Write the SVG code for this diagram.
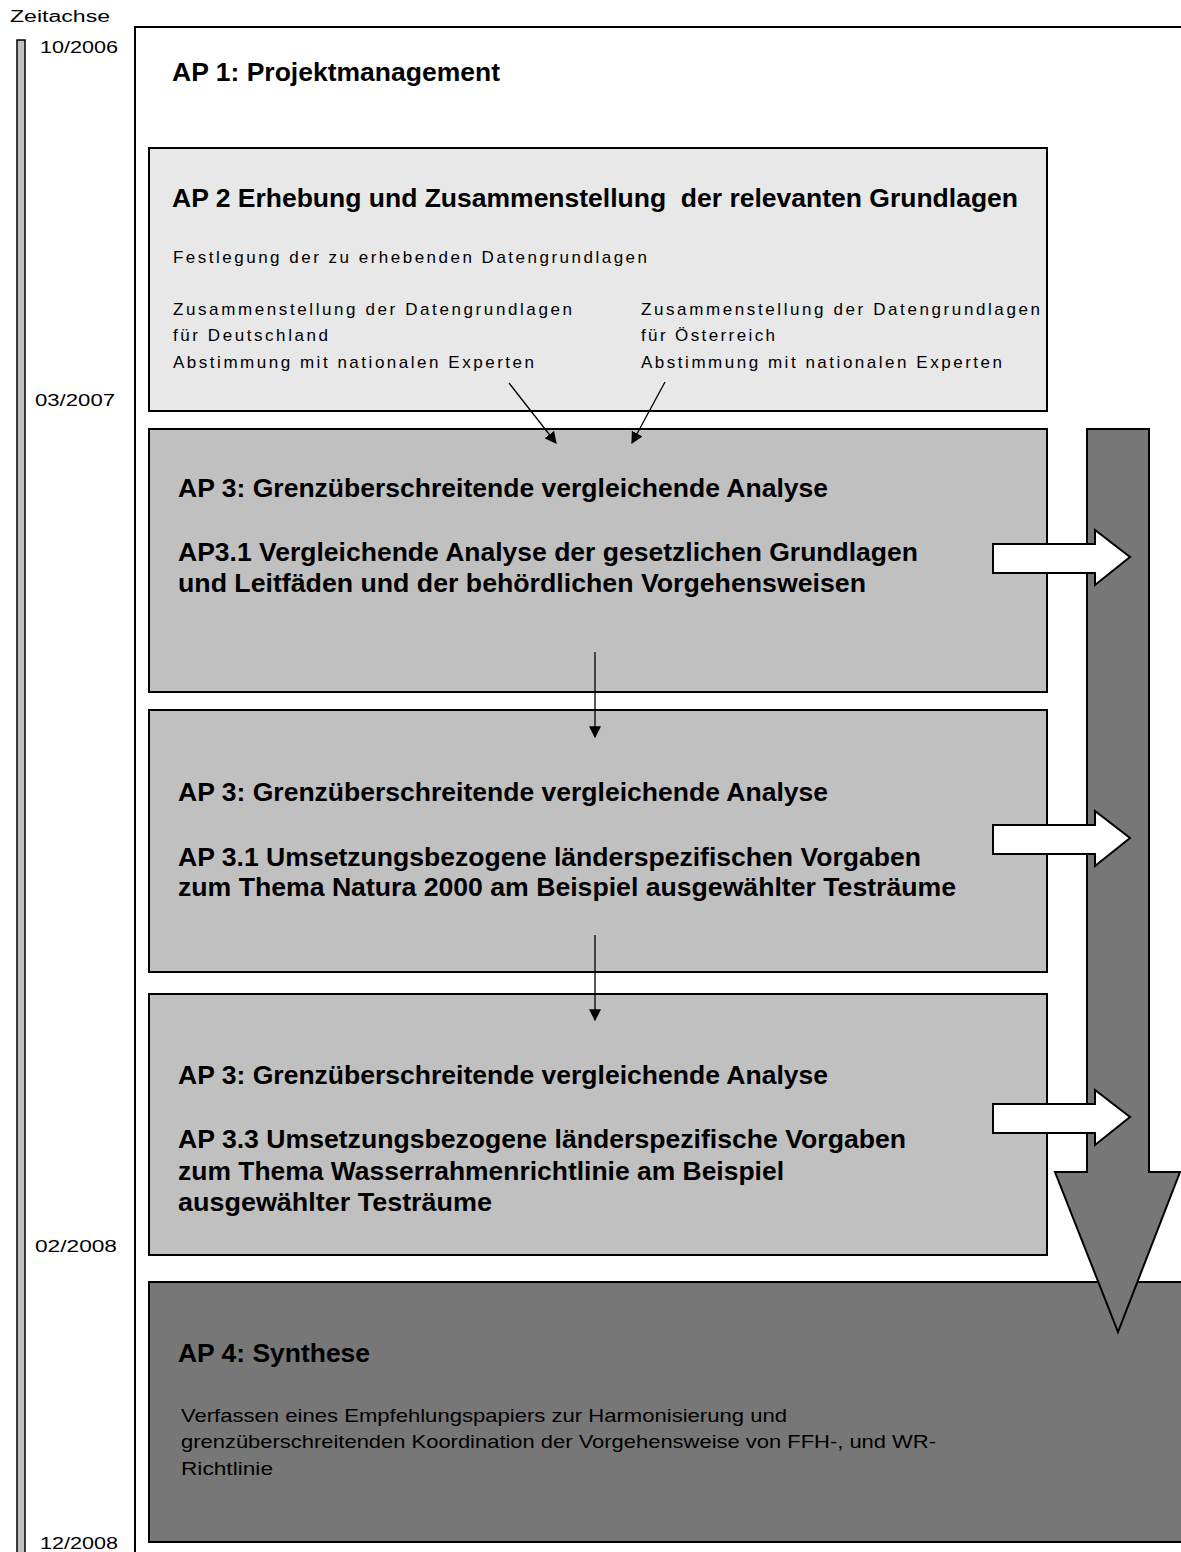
<svg xmlns="http://www.w3.org/2000/svg" width="1181" height="1552" viewBox="0 0 1181 1552">
<defs>
<style>
.box{stroke:#000;stroke-width:2}
.t{font-family:"Liberation Sans",Arial,sans-serif;fill:#000}
.time{font-size:16px}
.h{font-size:25px;font-weight:bold}
.s{font-size:17px}
.c{font-size:19px}
.ln{stroke:#000;stroke-width:1.3;fill:none}
.wa{fill:#fff;stroke:#000;stroke-width:2;stroke-linejoin:miter}
</style>
<marker id="ah" viewBox="0 0 10 10" refX="9" refY="5" markerWidth="12" markerHeight="12" markerUnits="userSpaceOnUse" orient="auto">
<path d="M0,0 L10,5 L0,10 Z" fill="#000"/>
</marker>
</defs>
<rect width="1181" height="1552" fill="#fff"/>

<g id="timeline">
<rect x="17" y="40" width="8" height="1530" fill="#c0c0c0" stroke="#000" stroke-width="1.5"/>
<text class="t time" x="10" y="22" textLength="100" lengthAdjust="spacingAndGlyphs">Zeitachse</text>
<text class="t time" x="40" y="53" textLength="78" lengthAdjust="spacingAndGlyphs">10/2006</text>
<text class="t time" x="35" y="406" textLength="80" lengthAdjust="spacingAndGlyphs">03/2007</text>
<text class="t time" x="35" y="1252" textLength="82" lengthAdjust="spacingAndGlyphs">02/2008</text>
<text class="t time" x="40" y="1549" textLength="78" lengthAdjust="spacingAndGlyphs">12/2008</text>
</g>

<g id="ap1">
<rect class="box" x="135" y="27" width="1060" height="1540" fill="#fff"/>
<text class="t h" x="172" y="81" textLength="328" lengthAdjust="spacingAndGlyphs">AP 1: Projektmanagement</text>
</g>

<g id="ap2">
<rect class="box" x="149" y="148" width="898" height="263" fill="#e8e8e8"/>
<text class="t h" x="172" y="207" textLength="846" lengthAdjust="spacingAndGlyphs" xml:space="preserve">AP 2 Erhebung und Zusammenstellung  der relevanten Grundlagen</text>
<text class="t s" x="173" y="263" textLength="474" lengthAdjust="spacing">Festlegung der zu erhebenden Datengrundlagen</text>
<text class="t s" x="173" y="315" textLength="399" lengthAdjust="spacing">Zusammenstellung der Datengrundlagen</text>
<text class="t s" x="173" y="341" textLength="155" lengthAdjust="spacing">für Deutschland</text>
<text class="t s" x="173" y="368" textLength="361" lengthAdjust="spacing">Abstimmung mit nationalen Experten</text>
<text class="t s" x="641" y="315" textLength="399" lengthAdjust="spacing">Zusammenstellung der Datengrundlagen</text>
<text class="t s" x="641" y="341" textLength="134" lengthAdjust="spacing">für Österreich</text>
<text class="t s" x="641" y="368" textLength="361" lengthAdjust="spacing">Abstimmung mit nationalen Experten</text>
</g>

<g id="ap3-1">
<rect class="box" x="149" y="429" width="898" height="263" fill="#c0c0c0"/>
<text class="t h" x="178" y="497" textLength="650" lengthAdjust="spacingAndGlyphs">AP 3: Grenzüberschreitende vergleichende Analyse</text>
<text class="t h" x="178" y="561" textLength="740" lengthAdjust="spacingAndGlyphs">AP3.1 Vergleichende Analyse der gesetzlichen Grundlagen</text>
<text class="t h" x="178" y="592" textLength="688" lengthAdjust="spacingAndGlyphs">und Leitfäden und der behördlichen Vorgehensweisen</text>
</g>

<g id="ap3-2">
<rect class="box" x="149" y="710" width="898" height="262" fill="#c0c0c0"/>
<text class="t h" x="178" y="801" textLength="650" lengthAdjust="spacingAndGlyphs">AP 3: Grenzüberschreitende vergleichende Analyse</text>
<text class="t h" x="178" y="866" textLength="743" lengthAdjust="spacingAndGlyphs">AP 3.1 Umsetzungsbezogene länderspezifischen Vorgaben</text>
<text class="t h" x="178" y="896" textLength="778" lengthAdjust="spacingAndGlyphs">zum Thema Natura 2000 am Beispiel ausgewählter Testräume</text>
</g>

<g id="ap3-3">
<rect class="box" x="149" y="994" width="898" height="261" fill="#c0c0c0"/>
<text class="t h" x="178" y="1084" textLength="650" lengthAdjust="spacingAndGlyphs">AP 3: Grenzüberschreitende vergleichende Analyse</text>
<text class="t h" x="178" y="1148" textLength="728" lengthAdjust="spacingAndGlyphs">AP 3.3 Umsetzungsbezogene länderspezifische Vorgaben</text>
<text class="t h" x="178" y="1180" textLength="606" lengthAdjust="spacingAndGlyphs">zum Thema Wasserrahmenrichtlinie am Beispiel</text>
<text class="t h" x="178" y="1211" textLength="314" lengthAdjust="spacingAndGlyphs">ausgewählter Testräume</text>
</g>

<g id="ap4">
<rect class="box" x="149" y="1282" width="1050" height="260" fill="#777777"/>
<text class="t h" x="178" y="1362" textLength="192" lengthAdjust="spacingAndGlyphs">AP 4: Synthese</text>
<text class="t c" x="181" y="1422" textLength="606" lengthAdjust="spacingAndGlyphs">Verfassen eines Empfehlungspapiers zur Harmonisierung und</text>
<text class="t c" x="181" y="1448" textLength="755" lengthAdjust="spacingAndGlyphs">grenzüberschreitenden Koordination der Vorgehensweise von FFH-, und WR-</text>
<text class="t c" x="181" y="1475" textLength="92" lengthAdjust="spacingAndGlyphs">Richtlinie</text>
</g>

<g id="flow-arrow">
<polygon points="1087,429 1149,429 1149,1172 1180,1172 1118,1332 1055,1172 1087,1172" fill="#777777" stroke="#000" stroke-width="2" stroke-linejoin="miter"/>
</g>

<g id="connectors">
<line class="ln" x1="509" y1="383" x2="556" y2="443" marker-end="url(#ah)"/>
<line class="ln" x1="665" y1="382" x2="632" y2="443" marker-end="url(#ah)"/>
<line class="ln" x1="595" y1="652" x2="595" y2="737" marker-end="url(#ah)"/>
<line class="ln" x1="595" y1="935" x2="595" y2="1020" marker-end="url(#ah)"/>
<polygon class="wa" points="993,544 1095,544 1095,530 1130,557 1095,585 1095,573 993,573"/>
<polygon class="wa" points="993,825 1095,825 1095,811 1130,838 1095,866 1095,854 993,854"/>
<polygon class="wa" points="993,1104 1095,1104 1095,1090 1130,1117 1095,1145 1095,1133 993,1133"/>
</g>
</svg>
